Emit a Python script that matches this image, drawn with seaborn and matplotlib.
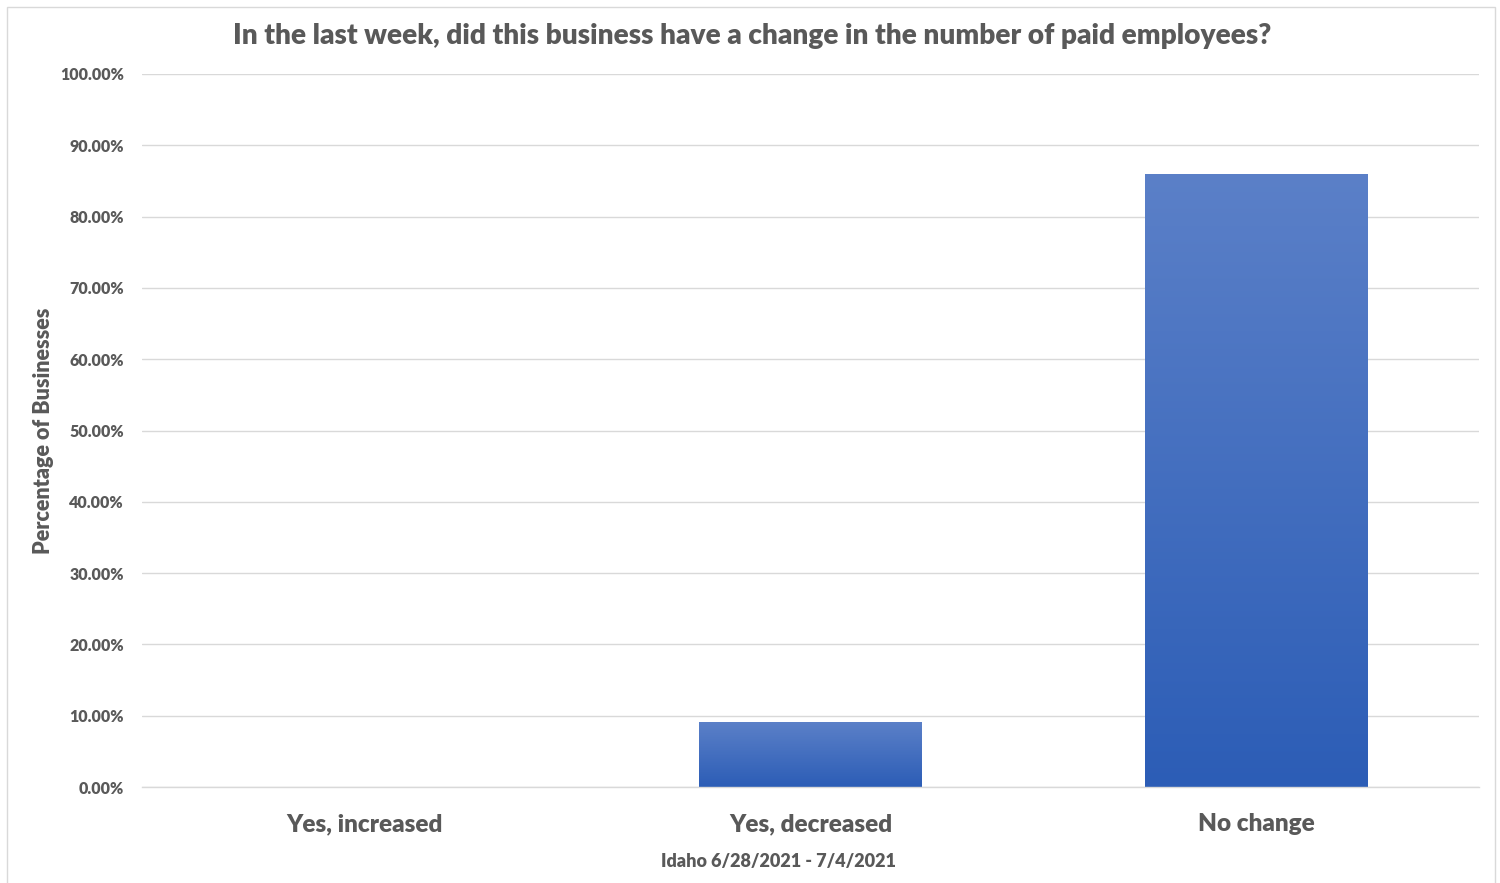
import numpy as np
import pandas as pd
import matplotlib.pyplot as plt
import matplotlib.patches as mpatches
from matplotlib.colors import LinearSegmentedColormap
from matplotlib.ticker import FuncFormatter
import seaborn as sns

categories = ['Yes, increased', 'Yes, decreased', 'No change']
percentages = [0.0, 9.1, 86.0]
title = 'In the last week, did this business have a change in the number of paid employees?'
ylabel = 'Percentage of Businesses'
xlabel = 'Idaho 6/28/2021 - 7/4/2021'

sns.set_theme(style='white')
plt.rcParams['font.family'] = ['Lato', 'DejaVu Sans']

df = pd.DataFrame({'category': categories, 'pct': percentages})

fig = plt.figure(figsize=(15, 8.83), dpi=100)
ax = fig.add_axes([142 / 1500, 1 - 787 / 883, (1479 - 142) / 1500, (787 - 74) / 883])

sns.barplot(data=df, x='category', y='pct', color='#4472C4', width=0.5, ax=ax)

# gradient fill like the Excel original
cmap = LinearSegmentedColormap.from_list('blues', ['#2C5DB6', '#5B80C8'])
grad = np.linspace(0, 1, 256).reshape(-1, 1)
for bar in ax.patches:
    x0, y0 = bar.get_x(), bar.get_y()
    w, h = bar.get_width(), bar.get_height()
    if h <= 0:
        continue
    bar.set_facecolor('none')
    bar.set_edgecolor('none')
    im = ax.imshow(grad, extent=[x0, x0 + w, y0, y0 + h], origin='lower',
                   cmap=cmap, aspect='auto', zorder=2)
    im.set_clip_path(bar)

ax.set_xlim(-0.5, 2.5)
ax.set_ylim(0, 100)
ax.set_yticks(np.arange(0, 101, 10))
ax.yaxis.set_major_formatter(FuncFormatter(lambda v, p: f'{v:.2f}%'))
ax.grid(axis='y', color='#D9D9D9', linewidth=1)
ax.set_axisbelow(True)
for s in ax.spines.values():
    s.set_visible(False)
ax.spines['bottom'].set_visible(True)
ax.spines['bottom'].set_color('#D9D9D9')
ax.spines['bottom'].set_linewidth(1)
ax.tick_params(axis='both', length=0)
ax.tick_params(axis='y', pad=13, labelsize=11.5, labelcolor='#595959')
ax.tick_params(axis='x', pad=19, labelsize=17.5, labelcolor='#595959')
for lbl in ax.get_xticklabels() + ax.get_yticklabels():
    lbl.set_fontweight('heavy')
ax.set_xlabel('')
ax.set_ylabel('')

fig.text(752 / 1500, 1 - 36 / 883, title, ha='center', va='center',
         fontsize=20.2, fontweight='heavy', color='#595959')
fig.text(44 / 1500, 1 - 431 / 883, ylabel, ha='center', va='center', rotation=90,
         fontsize=15.5, fontweight='heavy', color='#595959')
fig.text(778 / 1500, 1 - 862 / 883, xlabel, ha='center', va='center',
         fontsize=13, fontweight='heavy', color='#595959')

fig.patches.append(mpatches.Rectangle((7 / 1500, -0.01), 1488 / 1500, 1 - 7 / 883 + 0.01,
                                      transform=fig.transFigure, fill=False,
                                      edgecolor='#D9D9D9', linewidth=1))

fig.savefig('out.png', dpi=100)
